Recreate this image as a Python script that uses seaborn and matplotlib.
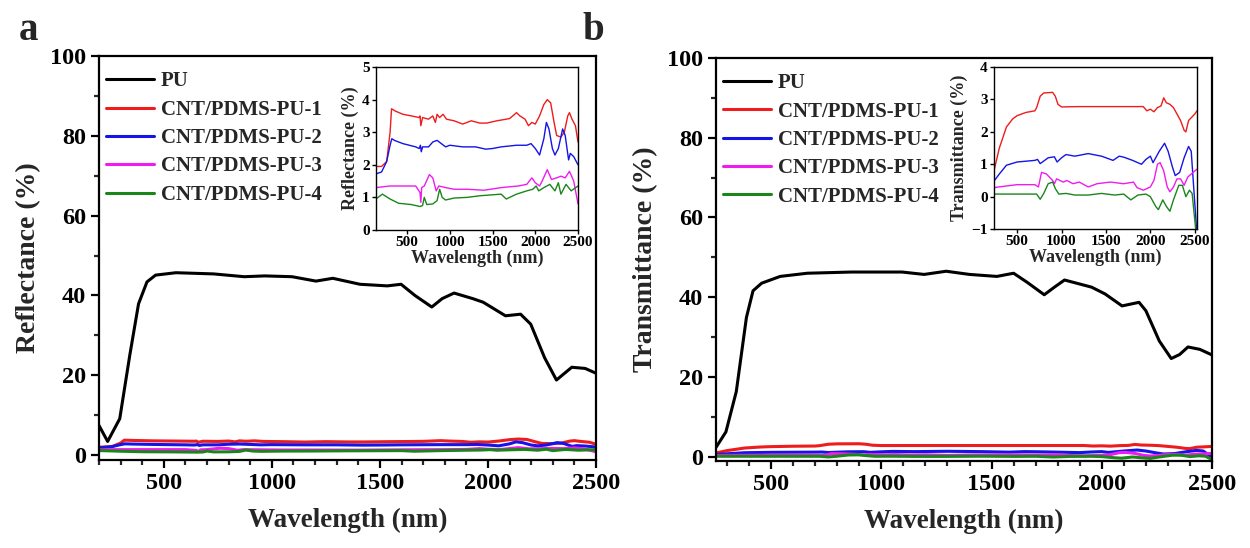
import numpy as np
import pandas as pd
import matplotlib
matplotlib.use("Agg")
import matplotlib.pyplot as plt
from matplotlib.ticker import MultipleLocator
import seaborn as sns

# ---- data (wavelength in nm, values in %) ----
labels = ["PU", "CNT/PDMS-PU-1", "CNT/PDMS-PU-2", "CNT/PDMS-PU-3", "CNT/PDMS-PU-4"]
colors = ["black", "#ee1c1c", "#1414e6", "#ee1cee", "#1a861a"]

# panel a: reflectance
pu_r_wl = [200, 240, 296, 343, 383, 422, 462, 556, 730, 872, 967, 1093, 1204, 1282, 1408,
           1534, 1598, 1662, 1740, 1788, 1843, 1930, 1978, 2081, 2151, 2198, 2262, 2317,
           2388, 2450, 2500]
pu_r = [7.4, 3.4, 9.1, 25.2, 37.9, 43.4, 45.1, 45.7, 45.4, 44.7, 44.9, 44.7, 43.6, 44.3, 42.8,
        42.4, 42.8, 40.0, 37.1, 39.2, 40.6, 39.2, 38.3, 34.9, 35.3, 32.8, 24.4, 18.8,
        22.0, 21.7, 20.5]

r1_wl = [133, 200, 260, 300, 317, 360, 450, 550, 640, 650, 660, 680, 750, 800, 830, 850, 880,
         920, 960, 1050, 1150, 1250, 1350, 1430, 1550, 1660, 1700, 1780, 1820, 1880, 1920,
         1960, 2000, 2050, 2100, 2140, 2180, 2220, 2250, 2300, 2340, 2380, 2400, 2430, 2470, 2500]
r1 = [1.95, 1.95, 2.1, 3.0, 3.72, 3.65, 3.55, 3.5, 3.45, 3.5, 3.2, 3.45, 3.4, 3.5, 3.3, 3.55, 3.45,
      3.55, 3.4, 3.35, 3.25, 3.35, 3.28, 3.28, 3.35, 3.4, 3.42, 3.6, 3.5, 3.4, 3.2,
      3.3, 3.25, 3.5, 3.85, 4.0, 3.9, 3.3, 2.9, 2.85, 3.0, 3.5, 3.6, 3.4, 3.2, 2.7]

r2_wl = [133, 200, 260, 300, 320, 350, 450, 600, 640, 655, 665, 680, 750, 800, 850, 900, 950,
         1000, 1150, 1300, 1420, 1500, 1600, 1780, 1900, 1950, 2000, 2050, 2100, 2130, 2160,
         2200, 2230, 2270, 2320, 2350, 2390, 2410, 2450, 2500]
r2 = [1.72, 1.78, 2.1, 2.6, 2.8, 2.75, 2.65, 2.55, 2.5, 2.6, 2.4, 2.55, 2.55, 2.7, 2.75, 2.65, 2.55,
      2.6, 2.55, 2.55, 2.48, 2.5, 2.55, 2.6, 2.6, 2.65, 2.5, 2.3, 2.8, 3.3, 3.1,
      2.5, 2.3, 2.5, 3.1, 2.9, 2.15, 2.35, 2.25, 2.0]

r3_wl = [133, 300, 600, 650, 660, 670, 700, 760, 800, 840, 870, 950, 1050, 1200, 1400, 1600,
         1800, 1900, 1960, 2000, 2050, 2080, 2140, 2190, 2250, 2300, 2350, 2400, 2450, 2500]
r3 = [1.3, 1.35, 1.35, 1.15, 0.85, 1.3, 1.35, 1.7, 1.6, 1.2, 1.35, 1.3, 1.25, 1.25, 1.22, 1.3,
      1.35, 1.4, 1.6, 1.45, 1.35, 1.5, 1.85, 1.55, 1.6, 1.65, 1.6, 1.8, 1.5, 0.8]

r4_wl = [133, 210, 300, 400, 550, 650, 680, 700, 730, 800, 850, 880, 910, 950, 1050, 1200,
         1350, 1500, 1600, 1660, 1780, 1900, 1970, 2010, 2040, 2100, 2170, 2230, 2270, 2300,
         2360, 2420, 2500]
r4 = [0.95, 1.1, 0.95, 0.82, 0.78, 0.72, 0.75, 1.0, 0.78, 0.8, 0.9, 1.25, 1.0, 0.92, 0.98, 1.0,
      1.05, 1.08, 1.1, 0.95, 1.1, 1.2, 1.25, 1.35, 1.2, 1.3, 1.4, 1.2, 1.45, 1.1,
      1.4, 1.2, 1.35]

# panel b: transmittance
pu_t_wl = [250, 295, 342, 388, 418, 457, 541, 664, 864, 1094, 1194, 1294, 1400, 1524, 1600,
           1662, 1739, 1785, 1831, 1954, 2015, 2092, 2169, 2200, 2261, 2315, 2353, 2391,
           2445, 2500]
pu_t = [2.3, 6.2, 16.3, 34.9, 41.6, 43.5, 45.2, 46.0, 46.3, 46.3, 45.7, 46.5, 45.7, 45.2, 46.0,
        43.7, 40.6, 42.5, 44.3, 42.5, 40.8, 37.8, 38.7, 36.6, 29.0, 24.6, 25.6, 27.5,
        26.9, 25.5]

t1_wl = [240, 300, 380, 450, 500, 600, 700, 720, 760, 800, 900, 930, 960, 1000, 1200, 1500,
         1800, 1920, 1960, 2000, 2040, 2080, 2120, 2150, 2180, 2220, 2260, 2300, 2340, 2380,
         2400, 2430, 2500, 2525]
t1 = [0.8, 1.5, 2.15, 2.4, 2.5, 2.6, 2.65, 2.75, 3.1, 3.2, 3.22, 3.1, 2.85, 2.77, 2.78, 2.78,
      2.78, 2.78, 2.65, 2.7, 2.62, 2.75, 2.8, 3.05, 2.9, 2.85, 2.75, 2.55, 2.35, 2.05,
      2.0, 2.35, 2.55, 2.65]

t2_wl = [240, 300, 380, 500, 700, 730, 760, 800, 850, 920, 950, 1000, 1050, 1150, 1300, 1450,
         1580, 1650, 1700, 1800, 1900, 1950, 2000, 2030, 2060, 2100, 2160, 2200, 2250, 2280,
         2330, 2380, 2430, 2460, 2490, 2520]
t2 = [0.48, 0.7, 0.97, 1.07, 1.12, 1.15, 1.02, 1.1, 1.2, 1.23, 1.07, 1.2, 1.3, 1.25, 1.33, 1.25,
      1.12, 1.25, 1.22, 1.12, 1.0, 1.15, 1.25, 1.05, 1.2, 1.4, 1.65, 1.4, 0.9, 0.65,
      0.75, 1.2, 1.55, 1.4, 0.2, -1.0]

t3_wl = [240, 380, 500, 700, 740, 775, 830, 900, 920, 945, 1020, 1060, 1130, 1200, 1300, 1400,
         1550, 1700, 1810, 1850, 1920, 2000, 2040, 2080, 2110, 2150, 2190, 2220, 2260, 2300,
         2340, 2380, 2420, 2460, 2525]
t3 = [0.28, 0.33, 0.37, 0.37, 0.3, 0.75, 0.7, 0.5, 0.4, 0.55, 0.45, 0.5, 0.4, 0.45, 0.3, 0.4,
      0.45, 0.4, 0.45, 0.28, 0.2, 0.3, 0.5, 1.0, 1.05, 0.8, 0.3, 0.15, 0.3, 0.55,
      0.55, 0.35, 0.6, 0.7, 0.85]

t4_wl = [240, 500, 720, 760, 800, 850, 900, 930, 970, 1050, 1150, 1300, 1450, 1600, 1700, 1780,
         1860, 1950, 2000, 2060, 2090, 2140, 2180, 2220, 2260, 2320, 2360, 2400, 2440, 2470, 2510]
t4 = [0.08, 0.08, 0.08, -0.08, 0.1, 0.4, 0.45, 0.25, 0.08, 0.1, 0.05, 0.05, 0.1, 0.05, 0.08, -0.1,
      0.05, 0.08, 0.0, -0.3, -0.4, -0.1, -0.3, -0.45, -0.1, 0.35, 0.35, 0.0, 0.2, 0.1, -1.0]

refl = [(pu_r_wl, pu_r), (r1_wl, r1), (r2_wl, r2), (r3_wl, r3), (r4_wl, r4)]
trans = [(pu_t_wl, pu_t), (t1_wl, t1), (t2_wl, t2), (t3_wl, t3), (t4_wl, t4)]

sns.set_style("ticks")
plt.rcParams['font.family'] = ['Liberation Serif', 'DejaVu Serif']
plt.rcParams['font.weight'] = 'bold'
plt.rcParams['axes.labelweight'] = 'bold'

fig = plt.figure(figsize=(12.5, 5.48), dpi=100)


def style_axis(ax, lw, tick_fs, major_len, minor_len):
    for s in ax.spines.values():
        s.set_linewidth(lw)
        s.set_color("black")
    ax.tick_params(which="major", direction="out", length=major_len, width=lw,
                   labelsize=tick_fs, colors="black")
    ax.tick_params(which="minor", direction="out", length=minor_len, width=lw)
    for t in ax.get_xticklabels() + ax.get_yticklabels():
        t.set_fontweight("bold")


def main_panel(rect, series, ylim, ylabel, letter, letter_x):
    ax = fig.add_axes(rect)
    for (wl, val), lab, col in zip(series, labels, colors):
        df = pd.DataFrame({"wl": wl, "val": val})
        sns.lineplot(data=df, x="wl", y="val", ax=ax, color=col, linewidth=2.2,
                     label=lab, sort=False)
    ax.set_xlim(200 if letter == "a" else 250, 2500)
    ax.set_ylim(*ylim)
    ax.xaxis.set_major_locator(MultipleLocator(500))
    ax.xaxis.set_minor_locator(MultipleLocator(100))
    ax.yaxis.set_major_locator(MultipleLocator(20))
    ax.yaxis.set_minor_locator(MultipleLocator(10))
    ax.set_xlabel("Wavelength (nm)", fontsize=19.5, fontweight="bold", labelpad=10)
    ax.set_ylabel(ylabel, fontsize=20, fontweight="bold", labelpad=6)
    style_axis(ax, 1.6, 17.5, 6, 3.5)
    ax.legend(loc="upper left", bbox_to_anchor=(0.015, 0.962), frameon=False,
              prop={"family": "Liberation Serif", "weight": "bold", "size": 15},
              handlelength=2.3, handletextpad=0.3, labelspacing=0.4,
              borderaxespad=0, borderpad=0)
    fig.text(letter_x, 0.945, letter, fontsize=28, fontweight="bold", ha="center", va="center")
    return ax


def inset(rect, series, xlim, ylim, ylabel):
    ax = fig.add_axes(rect)
    for (wl, val), col in zip(series[1:], colors[1:]):
        df = pd.DataFrame({"wl": wl, "val": val})
        sns.lineplot(data=df, x="wl", y="val", ax=ax, color=col, linewidth=1.0, sort=False)
    ax.set_xlim(*xlim)
    ax.set_ylim(*ylim)
    ax.xaxis.set_major_locator(MultipleLocator(500))
    ax.yaxis.set_major_locator(MultipleLocator(1))
    ax.set_xlabel("Wavelength (nm)", fontsize=13, fontweight="bold", labelpad=0)
    ax.set_ylabel(ylabel, fontsize=13, fontweight="bold", labelpad=2)
    style_axis(ax, 1.0, 11, 3, 2)
    ax.tick_params(pad=1.5)
    return ax


main_panel([0.0792, 0.1606, 0.3976, 0.737], refl, (-1.25, 100), "Reflectance (%)", "a", 0.023)
main_panel([0.5728, 0.1588, 0.3968, 0.7354], trans, (-1.1, 100), "Transmittance (%)", "b", 0.475)
inset([0.3008, 0.5803, 0.1616, 0.2974], refl, (135, 2500), (0, 5), "Reflectance (%)")
inset([0.7952, 0.582, 0.1624, 0.2956], trans, (240, 2525), (-1, 4), "Transmittance (%)")

fig.savefig("out.png", dpi=100, facecolor="white")
